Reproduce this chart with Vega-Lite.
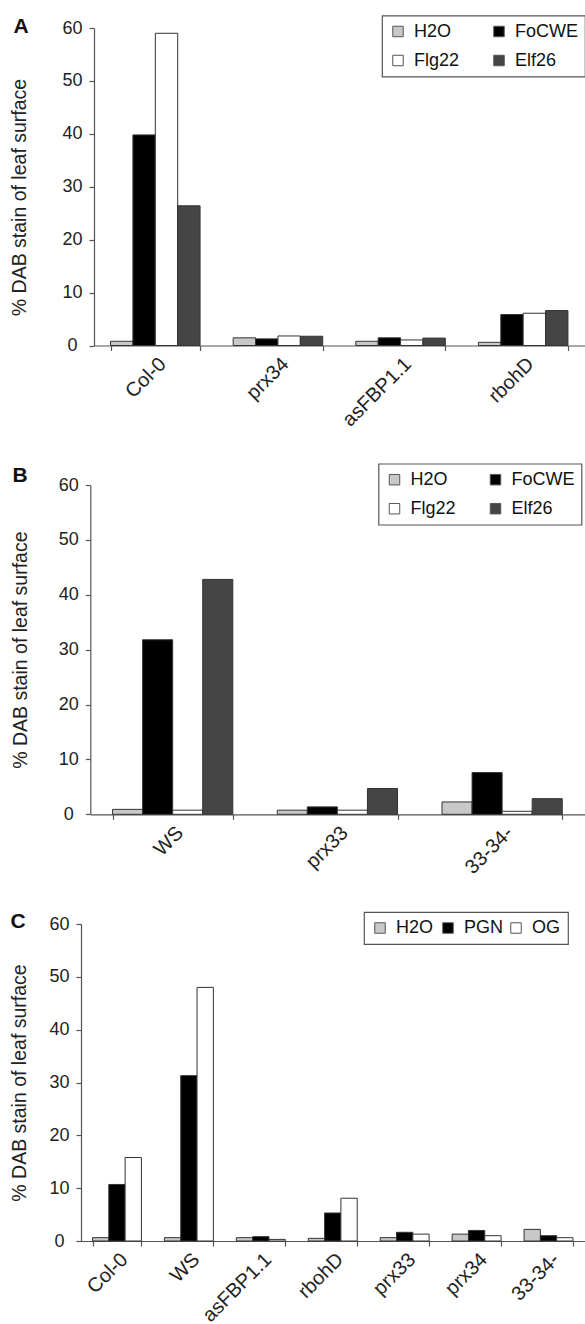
{
  "$schema": "https://vega.github.io/schema/vega-lite/v6.json",
  "padding": {"left": 9, "top": 14, "right": 0, "bottom": 0},
  "background": "white",
  "spacing": 33,
  "datasets": {
    "A": [
      {"line": "Col-0", "treatment": "H2O", "value": 0.8},
      {"line": "Col-0", "treatment": "FoCWE", "value": 39.8},
      {"line": "Col-0", "treatment": "Flg22", "value": 59.0},
      {"line": "Col-0", "treatment": "Elf26", "value": 26.4},
      {"line": "prx34", "treatment": "H2O", "value": 1.45},
      {"line": "prx34", "treatment": "FoCWE", "value": 1.25},
      {"line": "prx34", "treatment": "Flg22", "value": 1.8},
      {"line": "prx34", "treatment": "Elf26", "value": 1.75},
      {"line": "asFBP1.1", "treatment": "H2O", "value": 0.8},
      {"line": "asFBP1.1", "treatment": "FoCWE", "value": 1.45},
      {"line": "asFBP1.1", "treatment": "Flg22", "value": 1.05},
      {"line": "asFBP1.1", "treatment": "Elf26", "value": 1.4},
      {"line": "rbohD", "treatment": "H2O", "value": 0.6},
      {"line": "rbohD", "treatment": "FoCWE", "value": 5.85},
      {"line": "rbohD", "treatment": "Flg22", "value": 6.1},
      {"line": "rbohD", "treatment": "Elf26", "value": 6.6}
    ],
    "B": [
      {"line": "WS", "treatment": "H2O", "value": 0.9},
      {"line": "WS", "treatment": "FoCWE", "value": 31.8},
      {"line": "WS", "treatment": "Flg22", "value": 0.75},
      {"line": "WS", "treatment": "Elf26", "value": 42.8},
      {"line": "prx33", "treatment": "H2O", "value": 0.75},
      {"line": "prx33", "treatment": "FoCWE", "value": 1.35},
      {"line": "prx33", "treatment": "Flg22", "value": 0.75},
      {"line": "prx33", "treatment": "Elf26", "value": 4.7},
      {"line": "33-34-", "treatment": "H2O", "value": 2.25},
      {"line": "33-34-", "treatment": "FoCWE", "value": 7.6},
      {"line": "33-34-", "treatment": "Flg22", "value": 0.55},
      {"line": "33-34-", "treatment": "Elf26", "value": 2.85}
    ],
    "C": [
      {"line": "Col-0", "treatment": "H2O", "value": 0.63},
      {"line": "Col-0", "treatment": "PGN", "value": 10.7},
      {"line": "Col-0", "treatment": "OG", "value": 15.8},
      {"line": "WS", "treatment": "H2O", "value": 0.63},
      {"line": "WS", "treatment": "PGN", "value": 31.3},
      {"line": "WS", "treatment": "OG", "value": 48.0},
      {"line": "asFBP1.1", "treatment": "H2O", "value": 0.63},
      {"line": "asFBP1.1", "treatment": "PGN", "value": 0.82},
      {"line": "asFBP1.1", "treatment": "OG", "value": 0.3},
      {"line": "rbohD", "treatment": "H2O", "value": 0.5},
      {"line": "rbohD", "treatment": "PGN", "value": 5.3},
      {"line": "rbohD", "treatment": "OG", "value": 8.1},
      {"line": "prx33", "treatment": "H2O", "value": 0.63},
      {"line": "prx33", "treatment": "PGN", "value": 1.65},
      {"line": "prx33", "treatment": "OG", "value": 1.3},
      {"line": "prx34", "treatment": "H2O", "value": 1.3},
      {"line": "prx34", "treatment": "PGN", "value": 2.0},
      {"line": "prx34", "treatment": "OG", "value": 1.0},
      {"line": "33-34-", "treatment": "H2O", "value": 2.2},
      {"line": "33-34-", "treatment": "PGN", "value": 1.0},
      {"line": "33-34-", "treatment": "OG", "value": 0.63}
    ]
  },
  "vconcat": [
    {
      "width": 503.5,
      "height": 317.5,
      "data": {"name": "A"},
      "title": {"text": "A", "anchor": "start", "frame": "group", "fontSize": 21, "fontWeight": "bold", "dx": -67.5, "dy": 22, "offset": 0},
      "mark": {"type": "bar", "stroke": "#333", "strokeWidth": 1},
      "encoding": {
        "x": {"field": "line", "type": "nominal", "sort": null,
              "scale": {"paddingInner": 0.27, "paddingOuter": 0.135, "rangeMin": 13},
              "axis": {"title": null, "labelAngle": -45, "tickBand": "extent", "labelPadding": 3, "tickSize": 5}},
        "xOffset": {"field": "treatment", "type": "nominal", "sort": ["H2O", "FoCWE", "Flg22", "Elf26"], "scale": {"paddingInner": 0, "paddingOuter": 0}},
        "y": {"field": "value", "type": "quantitative",
              "scale": {"domain": [0, 60], "nice": false},
              "axis": {"offset": -13, "values": [0, 10, 20, 30, 40, 50, 60], "title": "% DAB stain of leaf surface", "labelAlign": "center", "labelPadding": 17, "titlePadding": 32.5, "titleY": 169}},
        "fill": {"field": "treatment", "type": "nominal",
                 "scale": {"domain": ["H2O", "FoCWE", "Flg22", "Elf26"], "range": ["#c8c8c8", "#000000", "#ffffff", "#454545"]},
                 "legend": {"title": null, "orient": "none", "legendX": 301, "legendY": -12.5, "direction": "horizontal", "columns": 2, "gridAlign": "each", "columnPadding": 30, "rowPadding": 11, "padding": 7}}
      }
    },
    {
      "width": 503.5,
      "height": 329.3,
      "data": {"name": "B"},
      "title": {"text": "B", "anchor": "start", "frame": "group", "fontSize": 21, "fontWeight": "bold", "dx": -68.5, "dy": 23.3, "offset": 0},
      "mark": {"type": "bar", "stroke": "#333", "strokeWidth": 1},
      "encoding": {
        "x": {"field": "line", "type": "nominal", "sort": null,
              "scale": {"paddingInner": 0.27, "paddingOuter": 0.135, "rangeMin": 9.3},
              "axis": {"title": null, "labelAngle": -45, "tickBand": "extent", "labelPadding": 3, "tickSize": 5}},
        "xOffset": {"field": "treatment", "type": "nominal", "sort": ["H2O", "FoCWE", "Flg22", "Elf26"], "scale": {"paddingInner": 0, "paddingOuter": 0}},
        "y": {"field": "value", "type": "quantitative",
              "scale": {"domain": [0, 60], "nice": false},
              "axis": {"offset": -9.3, "values": [0, 10, 20, 30, 40, 50, 60], "title": "% DAB stain of leaf surface", "labelAlign": "center", "labelPadding": 17, "titlePadding": 27.5}},
        "fill": {"field": "treatment", "type": "nominal",
                 "scale": {"domain": ["H2O", "FoCWE", "Flg22", "Elf26"], "range": ["#c8c8c8", "#000000", "#ffffff", "#454545"]},
                 "legend": {"title": null, "orient": "none", "legendX": 297.5, "legendY": -21.3, "direction": "horizontal", "columns": 2, "gridAlign": "each", "columnPadding": 30, "rowPadding": 11, "padding": 7}}
      }
    },
    {
      "width": 503.5,
      "height": 317,
      "data": {"name": "C"},
      "title": {"text": "C", "anchor": "start", "frame": "group", "fontSize": 21, "fontWeight": "bold", "dx": -70.5, "dy": 21, "offset": 0},
      "mark": {"type": "bar", "stroke": "#333", "strokeWidth": 1},
      "encoding": {
        "x": {"field": "line", "type": "nominal", "sort": null,
              "scale": {"paddingInner": 0.32, "paddingOuter": 0.16},
              "axis": {"title": null, "labelAngle": -45, "tickBand": "extent", "labelPadding": 3, "tickSize": 5}},
        "xOffset": {"field": "treatment", "type": "nominal", "sort": ["H2O", "PGN", "OG"], "scale": {"paddingInner": 0, "paddingOuter": 0}},
        "y": {"field": "value", "type": "quantitative",
              "scale": {"domain": [0, 60], "nice": false},
              "axis": {"values": [0, 10, 20, 30, 40, 50, 60], "title": "% DAB stain of leaf surface", "labelAlign": "center", "labelPadding": 17, "titlePadding": 19.5}},
        "fill": {"field": "treatment", "type": "nominal",
                 "scale": {"domain": ["H2O", "PGN", "OG"], "range": ["#c8c8c8", "#000000", "#ffffff"]},
                 "legend": {"title": null, "orient": "none", "legendX": 283, "legendY": -12, "direction": "horizontal", "columns": 3, "columnPadding": 3, "gridAlign": "all", "padding": 7}}
      }
    }
  ],
  "resolve": {
    "scale": {"x": "independent", "y": "independent", "xOffset": "independent", "fill": "independent"},
    "legend": {"fill": "independent"},
    "axis": {"x": "independent", "y": "independent"}
  },
  "config": {
    "font": "Liberation Sans",
    "view": {"stroke": null},
    "title": {"font": "Liberation Sans", "color": "#111", "baseline": "alphabetic"},
    "axis": {
      "grid": false,
      "domainColor": "#555",
      "domainWidth": 1.2,
      "tickColor": "#555",
      "tickWidth": 1.2,
      "tickSize": 5,
      "labelFont": "Liberation Sans",
      "labelFontSize": 18,
      "labelColor": "#222",
      "titleFont": "Liberation Sans",
      "titleFontSize": 19.5,
      "titleFontWeight": "normal",
      "titleColor": "#222"
    },
    "axisX": {"labelFontSize": 20},
    "legend": {
      "labelFont": "Liberation Sans",
      "labelFontSize": 18,
      "labelColor": "#111",
      "symbolType": "square",
      "symbolSize": 110,
      "symbolStrokeColor": "#555",
      "symbolStrokeWidth": 1,
      "labelOffset": 7,
      "strokeColor": "#555",
      "strokeWidth": 1.2,
      "fillColor": "white"
    }
  }
}
